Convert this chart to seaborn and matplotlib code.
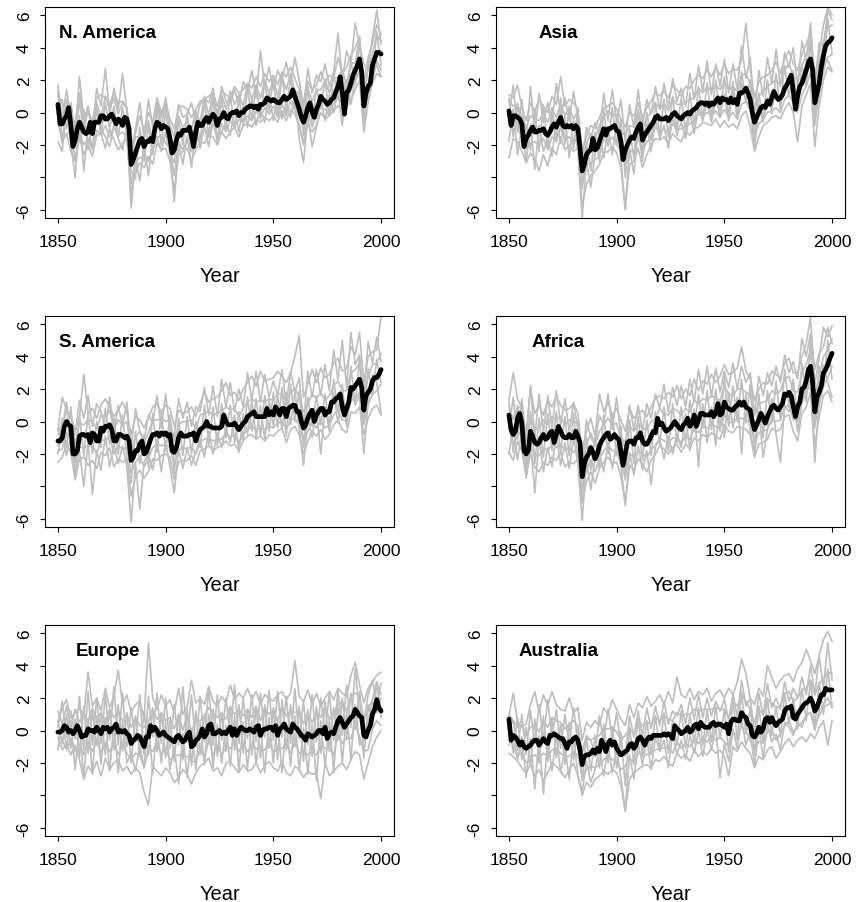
import numpy as np
import pandas as pd
import matplotlib
matplotlib.use("Agg")
import matplotlib.pyplot as plt
import seaborn as sns

# yearly axis for the thick black series, every second year for the grey runs
years = np.arange(1850, 2001)
run_years = np.arange(1850, 2001, 2)

# ---- N. America ----
na_mean = [
    0.5, -0.7, -0.7, -0.4, -0.2, 0.3, -0.8, -2.1, -1.7, -1.0,
    -0.6, -0.9, -1.2, -1.3, -1.2, -0.6, -1.3, -0.6, -0.6, -0.6,
    -0.2, -0.2, -0.4, -0.4, -0.2, -0.1, -0.4, -0.7, -0.4, -0.5,
    -0.8, -0.3, -0.4, -1.0, -3.2, -2.9, -2.5, -2.1, -1.7, -1.6,
    -2.1, -1.8, -1.8, -1.6, -1.8, -1.0, -0.6, -0.7, -1.0, -0.8,
    -0.9, -1.0, -1.6, -2.5, -2.3, -1.7, -1.3, -1.4, -1.1, -1.1,
    -1.1, -0.9, -1.5, -2.1, -1.2, -0.6, -0.8, -0.8, -0.5, -0.3,
    -0.6, -0.3, -0.1, -0.3, -0.8, -0.4, -0.3, 0.0, -0.3, -0.4,
    -0.1, 0.0, 0.0, 0.1, -0.2, 0.0, 0.0, 0.2, 0.3, 0.4,
    0.4, 0.3, 0.4, 0.2, 0.5, 0.5, 0.6, 0.9, 0.8, 0.7,
    0.8, 0.7, 0.6, 0.6, 0.8, 1.0, 0.8, 0.9, 1.0, 1.4,
    1.0, 0.6, 0.2, -0.3, -0.6, -0.2, 0.3, 0.6, 0.0, -0.3,
    0.2, 0.5, 1.0, 0.8, 0.7, 0.5, 0.6, 0.8, 0.9, 1.3,
    1.6, 2.2, 1.2, -0.1, 1.2, 1.4, 1.8, 2.3, 2.6, 2.9,
    3.3, 2.5, 0.4, 1.2, 1.6, 1.8, 2.9, 3.3, 3.7, 3.7, 3.6]
na_runs = [
    [1.7, -0.4, 1.4, -0.3, -0.7, 1.2, -0.8, 0.1, -0.6, 0.9,
     1.1, 0.9, 0.5, 1.2, 0.6, 0.7, 0.3, -2.0, -1.3, -0.2,
     -1.1, 0.0, -0.6, 0.9, 0.0, 0.6, -0.4, -1.0, 0.3, 0.4,
     0.2, -0.3, 0.2, 0.7, 0.8, 1.0, 1.2, 0.4, 1.3, 1.1,
     0.9, 1.6, 1.2, 1.4, 1.8, 1.5, 2.2, 1.6, 2.4, 1.9,
     2.3, 1.7, 2.5, 2.2, 2.8, 2.1, 1.4, 0.6, 1.9, 1.4,
     1.7, 2.5, 1.9, 2.3, 2.1, 3.4, 2.4, 2.8, 3.5, 4.0,
     4.6, 1.9, 3.4, 4.3, 5.4, 4.8],
    [-0.6, -1.8, -1.3, -2.4, -3.0, -1.5, -2.6, -2.0, -2.7, -1.4,
     -1.3, -2.2, -1.0, -1.7, -2.3, -1.9, -1.6, -5.0, -3.6, -3.1,
     -3.4, -2.7, -3.2, -1.9, -2.3, -2.2, -3.0, -4.8, -2.6, -2.4,
     -2.2, -3.0, -2.3, -1.8, -1.9, -1.4, -1.5, -2.0, -1.2, -1.6,
     -1.2, -0.9, -1.5, -0.8, -0.7, -0.9, -0.4, -0.6, -0.3, -0.5,
     -0.2, -0.6, 0.1, -0.5, 0.2, -0.1, -0.8, -2.0, -0.7, -1.2,
     -0.8, 0.0, -0.4, -0.2, 0.1, 0.4, 0.2, 0.3, 0.8, 1.4,
     2.0, -1.2, 0.6, 1.8, 2.4, 2.2],
    [1.3, -1.9, 0.8, -2.1, -0.5, -1.8, 0.2, -2.3, -0.4, 0.3,
     -1.4, 0.6, -1.0, 0.4, -1.5, 0.3, -1.3, -3.6, -4.1, -0.9,
     -3.0, -0.8, -2.6, 0.3, -2.0, 0.2, -2.5, -3.1, -0.4, -2.0,
     0.0, -2.4, -0.1, -1.8, 0.7, -1.5, 1.0, -1.9, 0.9, -1.0,
     1.1, -1.0, 1.0, -0.9, 1.5, -0.5, 1.7, -0.4, 1.9, 0.1,
     2.1, -0.3, 2.4, 0.0, 2.2, 0.2, 1.3, -1.4, 1.6, -0.6,
     1.5, 0.3, 2.0, -0.2, 2.4, 0.8, 2.6, 0.5, 3.2, 1.7,
     4.5, 0.3, 3.2, 2.0, 5.0, 2.9],
    [0.2, 0.8, -1.0, 0.6, -1.3, 2.2, -0.5, 0.4, -1.1, 1.5,
     0.4, 2.7, -0.1, 1.5, 0.2, 2.4, 0.1, -2.5, -1.0, 0.6,
     -1.6, 0.8, -0.9, 0.7, -0.3, 0.9, -0.8, -1.5, 0.5, -0.3,
     -0.1, 0.6, -0.6, 0.5, 0.9, 0.6, 1.5, -0.2, 1.6, 0.7,
     0.6, 1.4, 0.4, 1.9, 1.3, 2.6, 0.9, 3.8, 1.6, 2.8,
     1.4, 2.6, 2.0, 3.1, 1.8, 3.4, 2.0, 0.3, 2.7, 1.2,
     2.3, 1.9, 3.0, 1.6, 2.5, 4.9, 2.0, 3.8, 3.0, 5.5,
     4.1, 3.0, 2.6, 4.6, 6.3, 4.2],
    [-1.8, -2.4, 0.4, -1.9, -4.0, -0.2, -3.6, -0.9, -2.2, 0.2,
     -1.0, -1.5, -2.1, -0.8, -1.6, -2.3, -0.9, -5.9, -2.8, -4.2,
     -2.0, -3.9, -1.4, -1.5, -2.4, -1.2, -2.6, -5.5, -1.9, -3.2,
     -1.4, -3.4, -1.0, -2.2, -0.9, -2.1, -0.5, -1.4, -1.2, -0.6,
     -1.4, 0.2, -1.2, 0.5, -0.9, 0.9, -0.8, 0.3, -0.6, 1.2,
     -0.5, 1.0, -0.4, 0.6, -0.3, 1.2, -1.6, -3.1, -0.2, -2.1,
     -0.9, 0.8, -0.5, 1.1, 0.0, 1.3, -0.8, 2.0, 0.5, 2.1,
     2.5, -0.2, 1.0, 2.6, 2.9, 2.2],
    [1.0, 0.6, -0.3, 0.5, -1.6, 0.7, -1.1, 0.2, -1.2, 0.6,
     -0.3, 1.0, 0.2, 0.9, -0.1, 0.6, 0.2, -2.9, -1.5, -1.5,
     -1.6, -0.5, -1.9, 0.6, -0.8, 0.5, -1.3, -2.0, -0.2, -0.9,
     -0.6, -1.0, 0.1, -0.6, 1.0, -0.2, 1.3, -0.4, 1.1, 0.2,
     1.3, 0.5, 1.1, 0.4, 1.8, 0.8, 1.7, 0.9, 2.0, 1.2,
     2.1, 1.0, 2.2, 1.4, 2.4, 1.3, 1.2, -0.1, 1.5, 0.7,
     1.4, 1.4, 2.0, 1.2, 2.2, 2.1, 2.6, 1.7, 3.1, 3.0,
     4.7, 1.0, 2.7, 3.6, 4.8, 4.4],
    [-0.4, -1.3, -1.4, -1.0, -2.9, -1.2, -2.0, -1.6, -2.3, -1.1,
     -1.4, -0.8, -1.5, -0.9, -1.4, -1.2, -1.5, -4.4, -3.0, -2.8,
     -2.7, -3.0, -2.3, -1.6, -1.4, -1.9, -2.2, -3.9, -1.8, -2.3,
     -1.6, -2.4, -1.6, -1.7, -0.9, -1.5, -0.6, -1.7, -0.7, -1.2,
     -0.5, -0.9, -0.4, -0.6, -0.2, -0.5, 0.1, -0.3, 0.3, -0.1,
     0.4, -0.3, 0.5, -0.2, 0.7, 0.1, -0.7, -1.9, 0.1, -0.9,
     -0.2, 0.3, 0.2, -0.2, 0.6, 0.9, 0.6, 0.4, 1.4, 1.9,
     2.6, -0.6, 1.4, 1.9, 3.2, 2.6]]

# ---- Asia ----
as_mean = [
    0.1, -0.8, -0.2, -0.2, -0.3, -0.4, -0.7, -2.1, -1.6, -1.4,
    -1.1, -0.9, -1.2, -1.2, -1.1, -1.1, -1.0, -1.3, -1.4, -1.2,
    -0.9, -0.7, -0.9, -0.6, -0.3, -0.8, -0.9, -0.8, -0.9, -0.8,
    -1.0, -0.8, -1.0, -2.2, -3.6, -3.2, -2.6, -2.4, -2.3, -1.6,
    -2.3, -2.2, -1.8, -1.4, -1.0, -1.4, -1.0, -1.0, -0.9, -0.8,
    -1.1, -1.2, -1.8, -2.9, -2.3, -2.0, -1.7, -1.5, -1.6, -1.2,
    -0.9, -0.7, -1.7, -1.4, -1.2, -1.0, -0.8, -0.6, -0.3, -0.2,
    -0.4, -0.4, -0.4, -0.3, -0.5, -0.3, -0.1, 0.0, -0.2, -0.3,
    -0.4, -0.2, -0.1, 0.0, -0.1, 0.1, 0.2, 0.3, 0.5, 0.6,
    0.6, 0.5, 0.6, 0.4, 0.6, 0.5, 0.7, 0.9, 0.6, 0.9,
    0.8, 0.8, 0.6, 0.9, 0.6, 0.8, 0.5, 1.2, 1.2, 1.3,
    1.5, 1.2, 0.8, 0.0, -0.6, -0.3, 0.0, 0.3, 0.4, 0.3,
    0.7, 0.5, 0.9, 1.3, 1.0, 0.8, 0.9, 1.1, 1.5, 1.7,
    2.0, 2.3, 1.3, 0.2, 1.0, 1.6, 1.8, 2.2, 2.6, 3.1,
    3.3, 2.6, 0.6, 1.2, 1.8, 2.8, 3.5, 4.1, 4.3, 4.4, 4.6]
as_runs = [
    [1.1, 0.9, 1.7, 0.3, -0.5, 0.6, 0.1, 0.8, 0.4, 0.0,
     1.0, 0.5, 2.2, 0.4, 0.8, 0.6, 0.2, -2.3, -1.5, -0.8,
     -1.0, -0.3, 0.3, 0.4, 0.6, 0.2, -0.4, -0.9, 0.0, -0.2,
     0.6, -0.3, 0.3, 0.7, 1.2, 1.0, 1.3, 0.9, 1.7, 1.4,
     1.0, 1.6, 1.5, 2.0, 2.3, 2.1, 2.6, 2.2, 2.8, 2.3,
     3.0, 2.4, 2.7, 2.6, 3.2, 5.5, 2.7, 0.9, 1.9, 2.2,
     2.3, 2.6, 3.1, 2.4, 3.3, 3.8, 3.0, 2.6, 3.6, 4.2,
     4.9, 2.2, 3.6, 5.4, 6.5, 6.0],
    [-2.8, -1.6, -1.8, -2.4, -3.1, -2.5, -2.9, -3.6, -2.6, -3.3,
     -2.2, -2.6, -1.5, -2.3, -2.0, -2.4, -2.2, -5.8, -4.4, -3.9,
     -3.6, -3.2, -2.5, -2.4, -2.1, -2.5, -3.4, -5.9, -3.2, -3.0,
     -2.2, -3.4, -2.6, -2.0, -1.6, -1.7, -1.5, -1.9, -1.3, -1.6,
     -1.8, -1.2, -1.4, -1.0, -0.9, -0.6, -0.7, -0.8, -0.4, -0.9,
     -0.5, -0.9, -0.7, -1.0, -0.2, 0.1, -0.9, -2.4, -1.5, -0.8,
     -0.6, -0.3, -0.2, -0.4, 0.2, 0.6, 0.0, -1.8, 0.4, 1.1,
     1.8, -2.1, 0.4, 2.0, 2.8, 2.5],
    [0.9, -1.5, 0.6, -2.0, -0.8, -2.3, 0.2, -2.4, 0.5, -2.2,
     0.3, -1.8, 0.9, -2.0, 0.4, -2.2, 0.3, -4.7, -1.8, -3.6,
     -1.2, -3.0, 0.2, -2.1, 0.3, -2.0, -0.5, -4.0, -1.0, -2.8,
     0.2, -2.6, 0.0, -1.7, 0.6, -1.4, 0.8, -1.5, 1.0, -1.1,
     0.9, -1.2, 1.2, -0.8, 1.6, -0.4, 1.8, -0.3, 2.0, -0.1,
     2.2, -0.2, 1.9, -0.4, 2.5, 0.6, 2.0, -1.6, 1.2, -0.5,
     2.0, -0.1, 2.4, 0.2, 2.9, 1.0, 2.6, 0.2, 3.0, 1.6,
     4.6, -0.2, 3.4, 2.4, 5.8, 3.6],
    [-0.3, 1.7, -1.2, 0.8, -2.0, 1.6, -1.3, 1.2, -0.6, 0.6,
     -0.7, 1.8, -0.2, 0.9, -0.5, 1.3, -0.4, -3.0, -0.9, -1.6,
     -0.6, -1.4, 1.2, -0.5, 1.4, -0.6, 0.8, -1.8, 0.5, -0.9,
     1.4, -0.8, 0.8, -0.1, 1.6, 0.2, 1.8, 0.3, 2.1, 0.7,
     1.5, 0.4, 2.4, 0.8, 2.9, 1.3, 3.2, 1.1, 3.0, 1.6,
     3.3, 1.2, 3.0, 1.4, 4.1, 2.1, 3.4, -0.2, 2.6, 1.0,
     3.4, 1.8, 3.9, 1.6, 3.7, 2.8, 4.0, 1.6, 4.4, 3.2,
     5.5, 1.7, 4.3, 4.1, 6.3, 5.7],
    [-1.8, 0.2, -2.6, -0.9, -3.0, -0.7, -3.5, -0.8, -2.4, -1.6,
     -2.7, -0.4, -1.9, -0.2, -2.8, -0.5, -2.4, -6.5, -3.0, -4.6,
     -2.5, -1.2, -2.8, -0.9, -2.6, -0.5, -2.9, -6.0, -2.2, -3.8,
     -1.1, -3.0, -0.7, -2.4, -0.4, -1.6, -0.8, -2.2, -0.2, -1.4,
     -0.6, -1.6, 0.0, -1.3, 0.3, -0.5, 0.6, -0.6, 0.9, -0.2,
     1.1, -0.5, 1.4, -0.3, 1.8, 0.7, 0.3, -2.3, 0.5, -0.6,
     0.9, 0.4, 1.2, 0.6, 1.7, 1.2, 1.9, 1.0, 2.1, 2.4,
     2.9, -0.8, 1.6, 3.4, 3.2, 2.6],
    [0.7, 0.4, 0.5, -0.3, -0.9, -0.2, -0.4, -0.5, 0.0, -0.6,
     0.2, -0.3, 0.6, -0.2, 0.3, -0.4, 0.1, -3.1, -1.9, -1.3,
     -1.6, -0.8, -0.3, 0.1, -0.2, -0.1, -1.2, -1.4, -0.8, -0.9,
     0.1, -1.0, -0.3, 0.0, 0.6, 0.2, 0.6, 0.1, 0.9, 0.5,
     0.5, 0.6, 0.8, 0.9, 1.5, 1.2, 1.6, 1.3, 1.7, 1.4,
     1.9, 1.4, 1.6, 1.3, 2.3, 2.4, 1.8, 0.2, 1.0, 1.3,
     1.6, 1.8, 2.0, 1.7, 2.6, 3.0, 2.2, 2.0, 2.9, 3.5,
     4.3, 1.7, 2.8, 4.4, 5.2, 5.4],
    [-0.6, -1.1, -0.9, -1.6, -2.2, -1.9, -1.8, -2.0, -1.6, -2.3,
     -1.5, -1.8, -0.9, -1.7, -1.5, -1.9, -1.6, -4.4, -3.2, -3.1,
     -2.9, -2.7, -1.6, -1.9, -1.5, -2.0, -2.4, -3.2, -2.3, -2.5,
     -1.5, -2.4, -1.8, -1.6, -0.9, -1.2, -1.0, -1.3, -0.7, -1.0,
     -1.0, -0.8, -0.7, -0.5, -0.1, -0.2, 0.0, -0.2, 0.1, -0.3,
     0.2, -0.3, 0.0, -0.4, 0.5, 0.7, 0.1, -1.4, -0.7, -0.4,
     0.0, 0.1, 0.3, 0.0, 0.8, 1.1, 0.6, 0.0, 1.1, 1.6,
     2.5, -0.4, 1.0, 2.6, 3.4, 3.6]]

# ---- S. America ----
sa_mean = [
    -1.2, -1.2, -1.0, -0.3, 0.0, -0.2, -0.3, -2.0, -2.0, -1.8,
    -0.9, -0.8, -0.8, -0.9, -0.8, -1.3, -0.7, -0.8, -1.2, -1.2,
    -0.4, -0.6, -0.3, -0.3, -0.2, -0.5, -1.2, -1.2, -0.8, -0.8,
    -0.9, -1.0, -0.9, -1.2, -2.4, -2.2, -1.8, -1.8, -1.4, -1.2,
    -2.0, -1.9, -1.5, -1.1, -0.8, -0.8, -0.7, -0.9, -0.7, -0.8,
    -0.7, -0.9, -0.8, -1.8, -1.9, -1.6, -1.0, -0.7, -0.9, -0.9,
    -0.9, -0.8, -0.8, -0.7, -1.2, -0.8, -0.5, -0.4, -0.3, 0.0,
    -0.3, -0.3, -0.4, -0.4, -0.4, -0.4, -0.3, 0.4, 0.0, -0.2,
    -0.2, -0.2, -0.1, -0.3, -0.5, -0.3, -0.1, 0.0, 0.3, 0.4,
    0.5, 0.6, 0.3, 0.3, 0.3, 0.3, 0.3, 0.8, 0.4, 0.6,
    0.4, 0.9, 0.7, 0.4, 0.8, 0.8, 0.3, 0.8, 0.9, 1.0,
    1.0, 0.6, 0.6, 0.0, -0.4, -0.2, 0.2, 0.5, 0.7, 0.0,
    0.4, 0.6, 0.8, 0.8, 0.4, 0.6, 0.6, 1.2, 1.2, 1.4,
    1.5, 1.7, 0.9, 0.4, 0.8, 1.2, 2.1, 2.0, 2.2, 2.4,
    2.6, 2.1, 0.7, 1.6, 1.8, 2.0, 2.5, 2.7, 2.7, 2.9, 3.2]
sa_runs = [
    [-0.5, 1.5, 0.7, 0.4, -0.6, 0.3, 2.9, 0.5, 0.8, 0.2,
     1.0, 1.4, 0.9, 0.3, 0.7, 1.2, 0.5, -0.8, 0.3, 0.1,
     -0.4, 0.2, 0.9, 1.1, 0.6, 1.0, 0.8, -0.3, 0.7, 0.5,
     0.6, 0.9, 0.3, 1.1, 1.8, 1.2, 1.4, 1.5, 1.9, 2.4,
     1.6, 1.8, 1.3, 2.0, 2.4, 2.8, 2.2, 3.1, 2.5, 2.6,
     2.7, 3.1, 2.8, 2.4, 3.0, 4.0, 5.3, 1.5, 2.3, 3.2,
     2.4, 3.3, 2.7, 2.9, 3.6, 3.9, 3.1, 3.3, 4.6, 4.1,
     5.5, 2.4, 4.0, 4.3, 4.4, 6.5],
    [-2.5, -2.2, -1.4, -1.9, -3.6, -2.3, -2.2, -2.7, -2.4, -2.9,
     -1.9, -2.1, -1.6, -2.8, -2.3, -2.5, -2.4, -4.6, -3.4, -3.0,
     -3.5, -3.1, -2.3, -2.4, -2.1, -2.0, -2.2, -3.6, -2.5, -2.4,
     -2.4, -2.1, -2.7, -1.8, -1.7, -1.5, -1.8, -1.6, -1.5, -1.2,
     -1.5, -1.4, -1.8, -1.2, -0.9, -0.8, -1.1, -0.9, -1.2, -0.8,
     -0.9, -0.6, -0.4, -1.3, -0.5, -0.3, -0.8, -2.0, -1.2, -0.6,
     -0.9, -0.5, -1.1, -0.8, -0.2, 0.1, -0.5, -0.7, 0.6, 0.5,
     0.9, -0.8, 0.2, 0.8, 1.0, 0.4],
    [-1.5, 0.2, -1.6, 0.9, -2.8, 0.4, -2.1, 0.5, -2.0, 0.0,
     -1.6, 0.8, -1.4, 0.2, -2.0, 0.4, -2.2, -3.8, -0.6, -2.6,
     -0.8, -2.8, 0.5, -1.9, 0.6, -1.8, 0.4, -3.2, 0.2, -2.1,
     0.3, -2.0, 0.0, -1.6, 1.0, -1.4, 0.9, -1.5, 1.1, -1.0,
     1.0, -1.3, 0.6, -1.2, 1.5, -0.6, 1.4, -0.9, 1.6, -0.6,
     1.8, -0.4, 2.1, -0.9, 2.3, 0.0, 1.9, -1.6, 1.5, -0.3,
     1.6, -0.2, 1.7, -0.4, 2.6, 0.6, 2.3, -0.3, 3.4, 1.0,
     3.9, -0.2, 3.3, 1.6, 3.8, 2.4],
    [-0.8, -0.4, 1.2, -1.1, -0.8, 1.3, 0.2, 1.6, -0.3, 1.1,
     0.6, -0.5, 1.5, -0.7, 1.0, -0.3, 1.2, -1.6, 0.8, -0.6,
     -1.2, 0.4, -0.1, 1.6, -0.4, 1.7, -0.6, -0.9, 1.4, 0.2,
     1.2, -0.3, 0.9, 0.6, 2.1, 0.4, 2.2, 0.3, 2.6, 0.9,
     2.4, 0.6, 2.0, 0.9, 3.0, 1.3, 3.1, 1.2, 2.9, 1.5,
     2.5, 1.6, 3.2, 1.0, 3.1, 1.8, 2.7, -0.3, 3.1, 1.5,
     3.2, 1.6, 3.5, 1.9, 4.4, 2.6, 5.0, 2.1, 5.5, 3.5,
     4.1, 1.5, 4.9, 3.6, 5.2, 3.7],
    [-2.0, -0.6, -2.1, -0.9, -3.2, -1.8, -4.0, -1.2, -4.5, -1.8,
     -3.0, -0.9, -2.8, -1.4, -2.6, -1.5, -2.8, -6.2, -2.6, -5.4,
     -2.5, -2.0, -3.0, -1.1, -3.1, -1.2, -2.8, -4.4, -1.7, -2.9,
     -1.6, -2.7, -1.9, -1.1, -2.2, -0.6, -2.0, -0.7, -1.6, -0.4,
     -1.3, 0.4, -1.9, 0.5, -0.8, 1.3, -1.0, 1.0, -1.1, 1.3,
     -0.3, 1.6, -0.5, 1.8, -0.2, 1.9, -0.4, -2.7, 0.3, -1.0,
     0.8, -2.0, 0.9, -0.6, 1.8, -0.1, 1.6, 0.2, 1.9, 1.1,
     1.6, -2.0, 1.2, 2.9, 2.4, 0.5],
    [-0.6, -0.2, 0.6, 0.5, -1.4, -0.1, -0.2, 0.1, 0.0, -0.5,
     0.4, 0.3, 0.7, -0.5, 0.1, -0.2, 0.0, -1.8, -1.0, -0.6,
     -1.3, -0.7, 0.1, 0.1, 0.2, 0.0, 0.1, -1.2, -0.2, 0.0,
     0.0, 0.1, -0.5, 0.4, 0.5, 0.6, 0.4, 0.5, 0.6, 0.9,
     0.7, 0.8, 0.3, 0.8, 1.2, 1.4, 1.2, 1.3, 1.2, 1.4,
     1.3, 1.7, 1.7, 1.3, 1.8, 2.0, 1.5, 0.6, 1.1, 1.7,
     1.4, 1.8, 1.3, 1.6, 2.2, 2.5, 1.9, 1.9, 3.0, 3.2,
     3.6, 1.8, 2.7, 3.5, 3.6, 4.2],
    [-1.8, -1.7, -0.7, -1.2, -2.6, -1.6, -1.6, -1.5, -1.5, -2.0,
     -1.1, -1.2, -0.9, -2.0, -1.5, -1.7, -1.6, -3.2, -2.5, -2.2,
     -2.8, -2.3, -1.6, -1.4, -1.5, -1.4, -1.6, -2.7, -1.8, -1.6,
     -1.7, -1.5, -2.0, -1.2, -1.1, -1.0, -1.2, -1.1, -1.1, -0.7,
     -1.0, -0.8, -1.3, -0.8, -0.5, -0.3, -0.5, -0.4, -0.5, -0.3,
     -0.4, -0.1, 0.0, -0.5, 0.1, 0.2, -0.2, -1.2, -0.6, 0.0,
     -0.4, 0.0, -0.4, -0.2, 0.4, 0.7, 0.1, 0.0, 1.3, 1.4,
     1.8, -0.1, 1.0, 1.7, 1.9, 2.3]]

# ---- Africa ----
af_mean = [
    0.4, -0.5, -0.8, -0.6, 0.2, 0.5, -0.1, -1.8, -2.0, -1.8,
    -0.6, -0.9, -1.3, -1.4, -1.3, -1.0, -0.8, -1.1, -1.0, -0.7,
    -0.6, -1.3, -0.8, -0.3, -0.6, -0.9, -1.0, -1.0, -0.8, -1.0,
    -1.0, -0.6, -0.9, -1.3, -3.4, -2.6, -2.2, -2.0, -1.6, -1.9,
    -2.3, -2.0, -1.5, -1.2, -1.0, -0.8, -0.7, -1.1, -1.0, -0.8,
    -1.0, -1.1, -1.9, -2.7, -2.0, -1.3, -1.2, -1.2, -1.4, -1.0,
    -1.0, -0.7, -1.2, -1.4, -1.4, -1.2, -0.9, -0.6, -0.7, 0.2,
    -0.2, -0.1, -0.4, -0.6, -0.5, -0.4, -0.2, 0.0, -0.2, -0.4,
    -0.5, -0.2, -0.1, 0.2, -0.3, -0.1, 0.4, -0.3, 0.1, 0.5,
    0.5, 0.4, 0.4, 0.4, 0.6, 0.3, 0.5, 1.1, 0.4, 0.5,
    1.2, 0.9, 0.8, 0.7, 0.7, 0.9, 1.0, 1.2, 1.0, 1.2,
    0.9, 0.8, 0.7, 0.0, -0.5, -0.2, 0.1, 0.5, 0.2, -0.1,
    0.3, 0.6, 0.9, 1.0, 0.8, 0.7, 0.9, 1.1, 1.7, 1.6,
    1.8, 1.6, 0.9, 0.3, 0.9, 1.2, 2.0, 2.1, 2.5, 3.2,
    3.4, 2.4, 0.6, 1.5, 1.8, 2.2, 3.0, 3.2, 3.5, 3.9, 4.2]
af_runs = [
    [1.3, 3.0, 1.4, 0.8, -0.8, 2.1, 0.5, 1.0, 0.4, 1.3,
     0.9, 1.6, 1.0, 0.7, 0.8, 1.1, 0.5, -1.9, -0.6, 0.2,
     -0.9, 1.7, 0.6, 1.2, 0.4, 0.8, 0.1, -0.6, 0.8, 0.2,
     0.5, 0.7, 0.3, 0.9, 1.4, 1.6, 1.4, 1.8, 1.5, 2.2,
     1.4, 2.0, 1.6, 2.6, 1.9, 2.5, 2.3, 2.9, 2.4, 2.8,
     3.5, 2.9, 3.0, 3.3, 4.6, 3.1, 2.6, 1.3, 2.0, 2.4,
     2.3, 3.1, 2.9, 2.7, 3.6, 3.9, 3.0, 3.0, 4.0, 4.8,
     6.4, 2.3, 3.9, 5.8, 5.2, 5.9],
    [-1.9, -2.4, -1.2, -1.8, -3.4, -2.0, -2.8, -3.1, -2.5, -2.7,
     -2.2, -2.4, -1.9, -2.8, -2.5, -2.6, -2.3, -5.0, -3.7, -3.1,
     -3.8, -2.9, -2.5, -2.2, -2.6, -2.5, -3.4, -5.0, -2.7, -3.0,
     -2.3, -2.6, -3.1, -2.4, -2.0, -1.5, -1.7, -2.0, -1.6, -1.4,
     -1.9, -1.4, -1.7, -1.0, -1.2, -0.8, -1.0, -0.7, -0.9, -1.1,
     -0.2, -0.6, -0.7, -0.3, -0.4, -0.5, -0.8, -2.2, -1.4, -1.3,
     -1.1, -0.4, -0.6, -0.5, 0.3, 0.4, -0.6, -1.2, 0.5, 0.9,
     1.8, -1.5, 0.3, 1.6, 1.9, 1.2],
    [1.2, -1.9, 1.0, -0.8, -3.0, 0.6, -2.6, 0.2, -2.2, 0.5,
     -1.8, 0.6, -1.9, 0.3, -2.1, 0.5, -2.3, -4.6, -1.0, -3.0,
     -1.0, -2.9, 0.4, -2.0, 0.5, -2.1, -0.3, -3.6, 0.1, -2.6,
     0.3, -2.4, 0.1, -2.1, 0.6, -1.4, 0.9, -1.8, 1.1, -1.3,
     0.9, -1.3, 1.3, -0.6, 1.7, -0.4, 1.9, -0.5, 2.0, -0.6,
     2.8, -0.3, 2.2, 0.0, 2.6, -0.1, 2.3, -1.8, 1.7, -1.0,
     1.9, -0.1, 2.5, 0.1, 3.2, 0.9, 2.6, 0.0, 3.6, 1.2,
     5.0, -0.4, 3.4, 2.1, 5.0, 2.6],
    [-0.4, 1.5, -1.1, 1.4, -1.2, 2.2, -1.0, 1.7, -0.7, 1.6,
     -0.4, 1.9, -0.2, 1.4, -0.6, 1.2, -0.5, -2.6, 0.1, -1.0,
     -1.4, 0.4, -0.2, 1.7, -0.5, 1.5, -0.9, -1.6, 1.0, -0.5,
     1.0, -0.6, 1.1, 0.2, 1.7, 0.8, 2.3, 0.6, 2.1, 1.0,
     2.2, 0.9, 2.6, 1.2, 3.2, 1.7, 3.4, 1.5, 3.3, 1.8,
     3.1, 2.1, 3.6, 2.0, 3.4, 2.4, 3.0, 0.4, 2.8, 1.6,
     3.0, 2.2, 3.4, 2.4, 4.1, 3.0, 3.7, 2.6, 5.1, 4.0,
     5.4, 3.2, 4.2, 4.6, 5.8, 4.8],
    [-2.0, -0.3, -2.4, -0.5, -3.5, -1.2, -4.4, -1.0, -3.1, -1.6,
     -2.8, -0.8, -2.7, -1.3, -2.9, -1.0, -2.6, -6.1, -2.4, -4.2,
     -2.2, -2.0, -3.1, -1.3, -2.9, -1.4, -2.7, -5.2, -1.9, -3.3,
     -1.5, -3.0, -1.8, -3.9, -1.5, -1.1, -2.3, -0.9, -2.0, -0.8,
     -1.6, 0.5, -1.8, 0.8, -2.8, 1.1, -1.3, 0.9, -1.5, 1.4,
     -1.0, 1.8, -0.4, 1.5, -2.0, 1.7, -0.6, -2.1, 0.6, -2.2,
     -0.5, 1.4, -0.8, -2.5, 1.0, 0.6, 1.3, -0.6, 1.2, 2.2,
     2.0, -2.5, 1.4, 3.5, 2.4, 1.5],
    [1.0, 0.1, 0.9, 0.8, -1.2, 0.3, -0.5, -0.4, 0.1, -0.2,
     0.3, 0.1, 0.3, -0.2, 0.1, -0.1, 0.0, -2.8, -1.4, -0.7,
     -1.5, -0.6, -0.2, 0.2, -0.2, -0.1, -1.1, -1.2, -0.3, -0.6,
     -0.1, -0.4, -0.5, 0.0, 0.2, 0.8, 0.5, 0.4, 0.8, 0.7,
     0.4, 0.8, 0.6, 1.3, 1.1, 1.4, 1.3, 1.6, 1.4, 1.3,
     2.2, 1.7, 1.6, 2.0, 2.0, 1.8, 1.6, 0.4, 1.1, 1.2,
     1.3, 1.9, 1.7, 1.9, 2.6, 2.8, 1.9, 1.8, 3.0, 3.5,
     4.4, 1.6, 2.8, 4.0, 4.4, 5.1],
    [-0.3, -1.6, -0.6, -0.9, -2.7, -1.4, -2.1, -2.1, -1.6, -1.8,
     -1.4, -1.6, -1.4, -1.8, -1.6, -1.9, -1.7, -4.2, -3.0, -2.4,
     -3.1, -2.3, -1.8, -1.5, -1.8, -1.8, -2.7, -3.4, -2.0, -2.2,
     -1.8, -2.0, -2.2, -1.7, -1.5, -1.0, -1.2, -1.3, -1.0, -1.0,
     -1.3, -0.9, -1.1, -0.4, -0.7, -0.3, -0.4, -0.2, -0.3, -0.4,
     0.4, 0.0, -0.1, 0.2, 0.2, 0.1, -0.1, -1.3, -0.7, -0.6,
     -0.5, 0.1, 0.0, 0.1, 0.9, 1.0, 0.1, 0.1, 1.2, 1.7,
     2.6, -0.2, 1.0, 2.2, 2.7, 3.4]]

# ---- Europe ----
eu_mean = [
    -0.1, -0.1, 0.0, 0.3, 0.2, -0.1, 0.0, -0.2, 0.0, 0.3,
    0.0, -0.4, -0.3, -0.3, 0.1, 0.0, 0.0, -0.1, 0.2, 0.0,
    -0.2, 0.2, 0.1, 0.2, -0.1, 0.1, 0.2, 0.4, -0.1, 0.0,
    -0.1, 0.0, -0.2, -0.3, -0.8, -0.6, -0.5, -0.3, -0.4, -0.7,
    -1.0, -0.4, -0.4, 0.3, 0.0, 0.2, 0.0, -0.3, -0.2, -0.1,
    -0.3, -0.4, -0.5, -0.6, -0.7, -0.4, -0.3, -0.5, -0.7, -0.6,
    -0.3, -0.1, -1.0, -0.9, -0.6, -0.5, -0.3, 0.1, -0.4, -0.2,
    0.3, 0.4, -0.2, -0.2, -0.1, 0.0, -0.2, -0.1, -0.2, 0.0,
    0.2, -0.3, 0.1, -0.3, 0.0, 0.2, 0.1, 0.0, 0.0, 0.1,
    0.0, -0.1, 0.2, 0.3, -0.3, 0.0, 0.1, 0.1, 0.2, 0.2,
    0.0, 0.3, -0.3, 0.1, 0.2, 0.4, 0.1, 0.0, -0.1, 0.4,
    0.2, 0.1, -0.1, -0.3, -0.4, -0.6, -0.2, -0.3, -0.4, -0.3,
    -0.2, 0.0, 0.0, -0.2, 0.2, -0.5, -0.2, -0.1, -0.2, 0.2,
    0.6, 0.8, 0.5, 0.2, 0.4, 0.6, 0.8, 0.9, 1.3, 1.1,
    0.9, 0.8, -0.3, -0.4, 0.0, 0.3, 1.0, 1.3, 1.9, 1.4, 1.2]
eu_runs = [
    [0.5, 1.4, 1.9, 0.8, 1.1, 1.4, 0.9, 3.6, 1.5, 2.0,
     1.2, 2.6, 1.4, 2.1, 3.7, 1.6, 2.2, 1.1, 1.6, 1.8,
     0.7, 5.4, 2.0, 1.3, 2.2, 1.5, 1.9, 1.1, 2.6, 1.0,
     1.5, 3.1, 1.7, 2.0, 1.6, 2.7, 1.8, 1.5, 2.1, 1.7,
     2.8, 1.9, 2.3, 2.0, 2.6, 1.9, 2.4, 1.6, 2.2, 2.0,
     1.8, 2.2, 2.4, 1.9, 2.3, 4.3, 2.1, 1.8, 2.5, 1.6,
     2.3, 1.5, 2.0, 2.4, 1.9, 2.6, 2.3, 2.1, 3.4, 4.2,
     2.8, 1.7, 2.6, 3.0, 3.4, 3.6],
    [-0.4, -1.2, -0.8, -1.5, -0.9, -1.8, -3.0, -2.2, -2.6, -1.9,
     -2.8, -1.7, -2.4, -2.0, -1.8, -2.5, -2.2, -2.7, -2.3, -2.6,
     -3.8, -4.6, -2.2, -2.5, -2.8, -2.3, -2.6, -3.2, -2.9, -2.4,
     -2.7, -3.3, -2.6, -2.2, -2.0, -1.7, -2.5, -2.3, -2.8, -2.0,
     -1.9, -2.3, -2.6, -2.1, -2.5, -2.4, -2.0, -2.6, -2.2, -1.9,
     -2.3, -2.5, -1.9, -2.6, -2.8, -2.2, -2.4, -2.9, -2.5, -2.7,
     -2.6, -4.2, -2.0, -2.8, -2.5, -2.2, -2.0, -2.4, -1.8, -1.3,
     -1.5, -3.0, -2.0, -1.0, -0.4, 0.0],
    [0.6, -0.8, 1.0, -1.1, 0.7, -1.6, 1.5, -1.4, 1.2, -0.9,
     1.0, -1.5, 1.3, -1.2, 1.6, -1.3, 1.1, -2.0, 0.9, -1.6,
     1.2, -1.5, 1.4, -1.3, 1.1, -1.7, 0.6, -1.9, 1.0, -1.8,
     1.3, -2.2, 1.2, -1.5, 1.0, -0.8, 1.3, -1.6, 1.1, -1.3,
     1.4, -1.2, 1.6, -1.4, 1.3, -1.5, 1.5, -1.7, 1.6, -1.1,
     1.4, -1.8, 1.9, -1.2, 1.6, -1.0, 1.5, -1.9, 1.3, -1.6,
     1.5, -1.4, 1.8, -1.3, 1.4, -0.6, 2.0, -0.5, 2.3, 0.1,
     2.4, -1.7, 1.6, 0.3, 3.0, 0.8],
    [0.2, 1.8, -0.4, 1.2, -0.5, 2.1, -1.2, 2.4, -0.9, 2.0,
     -0.8, 2.2, -0.6, 2.7, -0.9, 2.3, -1.0, 1.4, -0.7, 2.2,
     -1.5, 2.1, -0.4, 2.3, -0.8, 2.0, -1.1, 1.6, -0.9, 2.7,
     -0.6, 2.2, -1.0, 2.1, -0.7, 2.7, -0.9, 2.2, -0.6, 2.0,
     -0.3, 2.8, -0.8, 2.0, -0.5, 2.2, -0.7, 2.3, -0.4, 2.5,
     -0.6, 2.4, -0.4, 2.1, -0.8, 2.6, -0.5, 1.8, -0.9, 2.2,
     -0.7, 2.0, -0.2, 2.3, -0.6, 2.5, -0.3, 2.8, 0.2, 3.8,
     1.0, 0.6, 2.2, 3.1, 1.6, 2.9],
    [-1.2, 0.5, -1.0, 0.6, -2.4, 0.3, -3.0, 0.7, -2.7, 0.9,
     -2.1, 0.8, -2.5, 0.4, -2.6, 0.6, -2.0, -1.4, -2.5, -0.9,
     -2.3, 0.6, -2.7, 0.2, -2.0, 0.5, -2.4, -1.0, -3.3, -0.2,
     -2.9, 0.1, -2.4, 0.5, -2.1, 1.0, -2.3, 0.4, -2.0, 0.3,
     -2.2, 0.9, -2.5, 0.5, -2.4, 0.6, -2.1, 0.4, -2.6, 0.8,
     -2.0, 0.7, -2.6, 0.5, -2.2, 0.9, -2.5, 0.2, -2.7, 0.4,
     -3.1, 0.6, -2.3, 0.7, -2.6, 1.4, -2.0, 1.2, -1.8, 1.6,
     -0.9, -0.6, 0.6, 1.8, 1.1, 2.0],
    [1.2, 0.4, 1.5, 0.2, 1.3, 0.5, 1.0, 0.6, 1.4, 0.7,
     1.1, 0.5, 1.3, 0.8, 1.2, 0.6, 1.0, 0.2, 0.8, 0.3,
     0.2, 0.6, 1.3, 0.7, 1.1, 0.6, 0.8, 0.1, 1.0, 0.0,
     1.0, -0.1, 0.7, 0.6, 0.9, 1.4, 1.1, 0.8, 1.1, 0.7,
     1.5, 1.0, 1.3, 0.9, 1.3, 0.8, 1.5, 0.6, 1.4, 1.0,
     1.3, 0.6, 1.5, 0.9, 1.2, 1.1, 1.2, 0.4, 1.1, 0.5,
     1.1, 0.8, 1.5, 0.7, 1.1, 1.6, 1.8, 1.2, 2.1, 2.3,
     2.2, 0.6, 1.3, 1.9, 3.0, 2.2],
    [-1.0, -0.6, -1.2, -0.5, -1.3, -0.8, -1.5, -0.7, -1.3, -0.6,
     -1.4, -0.8, -1.3, -0.7, -1.5, -0.9, -1.4, -1.8, -1.4, -1.5,
     -2.3, -1.2, -1.3, -0.8, -1.5, -1.1, -1.8, -1.6, -1.5, -1.6,
     -1.6, -1.9, -1.9, -1.1, -1.7, -0.6, -1.5, -0.9, -1.5, -1.0,
     -1.1, -0.7, -1.3, -0.8, -1.3, -0.9, -1.1, -1.2, -1.2, -0.7,
     -1.3, -1.2, -1.1, -0.8, -1.4, -0.7, -1.4, -1.3, -1.5, -1.3,
     -1.5, -0.9, -1.1, -1.1, -1.5, -0.3, -0.8, -0.5, -0.5, 0.4,
     -0.4, -1.3, -1.2, 0.1, 0.6, 0.3]]

# ---- Australia ----
au_mean = [
    0.7, -0.6, -0.3, -0.4, -0.6, -0.9, -0.7, -1.0, -1.1, -1.0,
    -0.9, -0.7, -0.6, -0.6, -0.9, -0.7, -0.5, -0.7, -0.8, -0.3,
    -0.3, -0.2, -0.3, -0.4, -0.5, -0.5, -0.8, -1.1, -0.7, -0.7,
    -0.5, -0.4, -0.6, -1.2, -2.1, -1.6, -1.5, -1.5, -1.4, -1.2,
    -1.4, -1.1, -1.3, -0.6, -0.9, -1.3, -0.8, -0.6, -0.9, -0.7,
    -1.1, -1.3, -1.5, -1.4, -1.3, -1.2, -0.9, -0.8, -1.1, -0.9,
    -0.5, -0.4, -0.6, -0.9, -0.6, -0.4, -0.5, -0.3, -0.3, -0.3,
    -0.3, -0.3, -0.2, -0.3, -0.2, -0.3, -0.5, 0.3, 0.1, 0.0,
    -0.2, -0.1, 0.0, 0.2, -0.1, 0.0, 0.3, 0.4, 0.1, 0.5,
    0.3, 0.2, 0.2, 0.2, 0.4, 0.5, 0.3, 0.4, 0.4, 0.3,
    0.2, 0.4, -0.2, 0.5, 0.7, 0.7, 0.6, 0.6, 1.1, 0.9,
    0.8, 0.4, 0.3, -0.3, -0.4, -0.2, 0.2, -0.1, 0.1, 0.7,
    0.8, 0.5, 0.8, 0.5, 0.3, 0.5, 0.6, 0.7, 1.2, 1.4,
    1.4, 1.5, 0.8, 0.7, 1.0, 1.2, 1.4, 1.6, 1.7, 1.8,
    2.0, 1.7, 1.2, 1.4, 1.8, 2.2, 2.2, 2.6, 2.5, 2.5, 2.5]
au_runs = [
    [0.9, 2.3, 0.6, 0.2, 0.4, 1.6, 2.4, 1.1, 2.2, 1.5,
     2.4, 1.6, 1.3, 1.2, 2.0, 1.1, 1.4, -0.6, 0.5, 0.2,
     0.6, 0.3, 1.4, 1.0, 1.9, 1.3, 0.7, 0.3, 1.6, 0.8,
     1.7, 1.4, 2.1, 1.5, 1.8, 2.2, 1.6, 2.4, 1.7, 3.3,
     2.2, 2.0, 2.6, 1.9, 2.4, 2.2, 2.6, 1.8, 2.3, 2.5,
     2.0, 2.6, 2.2, 3.0, 4.4, 3.5, 2.0, 1.6, 2.6, 2.1,
     4.0, 3.3, 2.6, 3.1, 3.4, 3.5, 3.0, 3.8, 4.2, 5.0,
     4.3, 3.5, 4.6, 5.6, 6.1, 5.5],
    [-1.4, -1.6, -1.9, -2.3, -2.6, -2.1, -2.8, -2.4, -3.1, -2.6,
     -2.0, -2.2, -2.5, -2.9, -2.4, -2.0, -2.8, -4.0, -3.2, -3.5,
     -3.0, -2.8, -2.5, -2.7, -2.4, -2.6, -3.4, -5.0, -3.0, -2.6,
     -2.4, -2.2, -2.1, -2.3, -1.8, -1.9, -1.6, -2.0, -2.2, -1.4,
     -1.7, -1.5, -1.9, -1.2, -1.6, -1.3, -1.5, -1.1, -1.4, -1.2,
     -1.6, -2.8, -1.0, -1.3, -0.7, -1.1, -1.4, -2.3, -1.6, -1.8,
     -1.2, -1.0, -1.7, -1.3, -0.8, -0.5, -1.0, -0.6, -0.4, -0.7,
     -0.2, -0.5, 0.2, 0.6, -0.9, 0.6],
    [0.9, -1.4, 0.8, -1.8, 0.2, -2.2, 0.7, -2.0, 0.9, -1.9,
     0.8, -1.7, 0.4, -2.1, 0.5, -1.8, 0.3, -3.1, -0.4, -2.5,
     -0.3, -2.3, 0.4, -2.0, 0.2, -2.3, -0.1, -3.4, 0.2, -2.1,
     0.8, -1.6, 0.6, -1.5, 0.9, -1.2, 1.1, -1.4, 0.6, -0.9,
     1.2, -1.1, 1.0, -0.8, 1.4, -0.9, 1.3, -0.7, 1.5, -0.5,
     1.3, -1.3, 1.9, -0.6, 2.4, -0.2, 1.4, -1.5, 1.5, -0.8,
     2.0, -0.3, 1.5, -0.4, 2.3, 0.4, 2.0, 0.1, 2.6, 0.6,
     3.1, 0.2, 3.0, 1.0, 3.8, 1.4],
    [0.2, 0.6, -1.2, 1.0, -1.5, 1.2, -0.8, 1.6, -0.6, 1.9,
     -0.5, 1.3, -1.1, 1.0, -0.9, 1.4, -0.8, -1.2, -0.3, -0.6,
     -1.6, 0.9, -0.7, 1.3, -0.5, 1.1, -1.0, -1.6, 0.9, -0.4,
     1.2, -0.3, 1.4, 0.1, 1.5, 0.3, 1.8, 0.4, 1.2, 0.9,
     1.6, 0.4, 2.0, 0.7, 2.2, 0.8, 2.0, 0.9, 1.8, 1.2,
     1.9, 0.6, 2.3, 0.8, 3.1, 1.5, 2.0, -0.2, 2.3, 0.9,
     2.9, 1.4, 2.0, 1.3, 3.0, 1.8, 2.6, 2.0, 3.3, 2.2,
     4.0, 2.2, 4.6, 2.6, 5.4, 3.1],
    [-0.9, -0.2, -1.8, -0.4, -2.9, -0.5, -3.6, -0.3, -3.9, -0.6,
     -2.5, -0.2, -2.6, -1.0, -3.0, -0.4, -2.7, -3.8, -1.9, -3.2,
     -2.4, -1.1, -2.8, -0.9, -2.6, -1.2, -2.9, -4.9, -1.5, -3.0,
     -0.8, -2.1, -0.5, -2.4, -0.4, -1.3, -0.6, -2.3, -0.2, -1.5,
     -0.6, -1.8, -0.3, -1.4, 0.0, -1.6, 0.1, -1.2, 0.3, -2.9,
     -0.8, -1.9, 0.1, -1.1, 0.7, -0.9, 0.0, -2.2, 0.2, -1.7,
     0.4, -0.7, -0.2, -1.2, 0.5, 0.2, -0.3, 0.5, 0.2, 1.0,
     1.1, 0.0, 1.2, 1.6, 2.0, 1.4],
    [1.0, 0.6, 0.2, 0.3, -0.3, 0.2, 0.3, -0.1, 0.6, 0.2,
     0.8, 0.6, 0.5, 0.1, 0.4, 0.6, 0.3, -1.4, -0.5, -0.6,
     -0.4, -0.3, 0.1, 0.1, 0.2, -0.1, -0.6, -0.3, 0.1, -0.2,
     0.6, 0.3, 0.5, 0.4, 0.8, 0.6, 0.9, 0.7, 0.6, 1.1,
     0.9, 1.0, 1.0, 1.3, 1.2, 1.3, 1.3, 1.3, 1.4, 1.3,
     1.3, 0.8, 1.8, 1.5, 2.2, 1.8, 1.3, 0.5, 1.3, 1.0,
     1.9, 1.7, 1.4, 1.5, 2.3, 2.4, 1.8, 2.0, 2.5, 2.6,
     3.1, 2.2, 2.9, 3.2, 3.6, 3.5],
    [0.3, -1.1, -1.5, -1.4, -2.0, -1.7, -1.5, -1.7, -1.4, -1.6,
     -1.2, -1.1, -1.4, -1.6, -1.6, -1.3, -1.5, -2.9, -2.4, -2.2,
     -2.3, -2.1, -1.8, -1.6, -1.8, -1.9, -2.4, -2.2, -1.7, -2.0,
     -1.4, -1.4, -1.5, -1.3, -1.2, -1.1, -1.1, -1.0, -1.4, -0.7,
     -1.1, -0.8, -1.0, -0.5, -0.8, -0.5, -0.7, -0.4, -0.6, -0.4,
     -0.7, -1.0, -0.2, -0.2, 0.2, 0.0, -0.6, -1.2, -0.7, -0.7,
     -0.1, 0.0, -0.6, -0.2, 0.3, 0.6, -0.1, 0.2, 0.5, 0.9,
     1.1, 0.4, 0.9, 1.4, 1.6, 1.7]]

panels = [
    ("N. America", na_mean, na_runs),
    ("Asia", as_mean, as_runs),
    ("S. America", sa_mean, sa_runs),
    ("Africa", af_mean, af_runs),
    ("Europe", eu_mean, eu_runs),
    ("Australia", au_mean, au_runs),
]

sns.set_theme(style="ticks")
plt.rcParams['font.family'] = ['Liberation Sans', 'DejaVu Sans']
plt.rcParams['axes.edgecolor'] = 'black'
plt.rcParams['axes.linewidth'] = 0.8
plt.rcParams['text.color'] = 'black'
plt.rcParams['axes.labelcolor'] = 'black'
plt.rcParams['xtick.color'] = 'black'
plt.rcParams['ytick.color'] = 'black'
plt.rcParams['xtick.labelcolor'] = 'black'
plt.rcParams['ytick.labelcolor'] = 'black'

W, H = 858, 903
fig = plt.figure(figsize=(W / 100, H / 100), dpi=100)
fig.patch.set_facecolor('white')

col_left = [45, 496]
row_top = [8, 317, 626]
box_w, box_h = 349, 211

for i, (name, mean, runs) in enumerate(panels):
    r, c = divmod(i, 2)
    ax = fig.add_axes([col_left[c] / W, 1 - (row_top[r] + box_h) / H, box_w / W, box_h / H])
    ax.set_facecolor('white')

    runs_df = pd.DataFrame({
        'Year': np.tile(run_years, len(runs)),
        'value': np.concatenate(runs),
        'run': np.repeat(np.arange(len(runs)), len(run_years)),
    })
    sns.lineplot(data=runs_df, x='Year', y='value', units='run', estimator=None,
                 color='#bebebe', lw=1.2, ax=ax, legend=False)
    sns.lineplot(x=years, y=mean, color='black', lw=3.4, ax=ax)

    ax.set_xlim(1844, 2006)
    ax.set_ylim(-6.5, 6.5)
    ax.set_xticks([1850, 1900, 1950, 2000])
    ax.set_xticklabels(['1850', '1900', '1950', '2000'], fontsize=12.5)
    ax.set_yticks([-6, -4, -2, 0, 2, 4, 6])
    ax.set_yticklabels(['-6', '', '-2', '0', '2', '4', '6'], fontsize=12.5,
                       rotation=90, va='center', ha='right')
    ax.tick_params(axis='both', direction='out', length=3.6, width=0.8, color='black')
    ax.tick_params(axis='x', pad=8)
    ax.tick_params(axis='y', pad=6)
    ax.set_xlabel('Year', fontsize=14.5, labelpad=12)
    ax.set_ylabel('')
    for sp in ax.spines.values():
        sp.set_visible(True)
        sp.set_color('black')
        sp.set_linewidth(0.8)
    ax.grid(False)
    ax.text(1873, 4.65, name, ha='center', va='baseline', fontsize=13.5,
            fontweight='bold', color='black')

fig.savefig('out.png', dpi=100, facecolor='white')
